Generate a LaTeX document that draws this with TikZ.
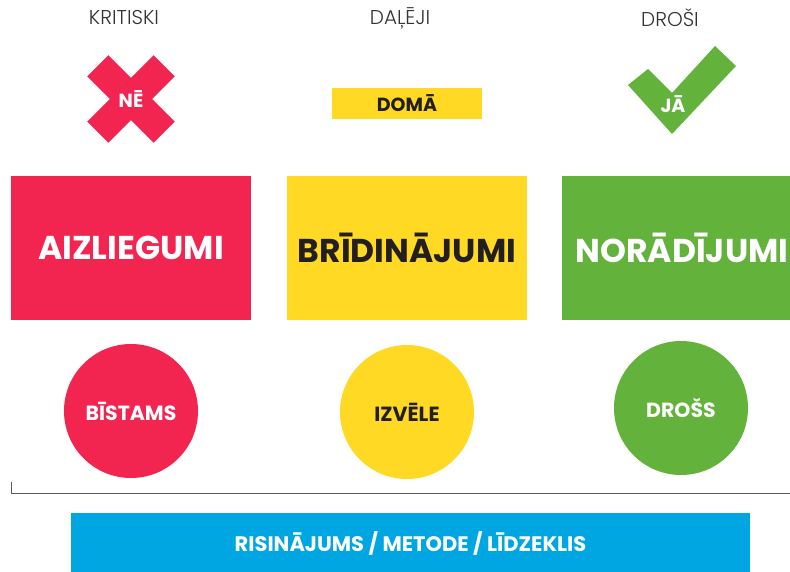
\documentclass[tikz,border=0pt]{standalone}
\usepackage{fontspec}
\setmainfont{Poppins}
\newfontfamily\poppinslight{Poppins Light}
\usetikzlibrary{positioning}
\definecolor{aizRed}{HTML}{F22450}
\definecolor{bridYellow}{HTML}{FFD924}
\definecolor{norGreen}{HTML}{62B23C}
\definecolor{risBlue}{HTML}{00A6E2}
\definecolor{darkText}{HTML}{231F20}
\definecolor{headGray}{HTML}{333333}

\tikzset{
    headlabel/.style={text=headGray, font=\poppinslight\fontsize{20}{22}\selectfont},
    bigbox/.style={minimum width=240pt, minimum height=144pt, inner sep=0pt,
        font=\bfseries\fontsize{33}{36}\selectfont},
    disc/.style={circle, minimum size=134pt, inner sep=0pt,
        font=\bfseries\fontsize{20.5}{22}\selectfont},
    xbar/.style={fill=aizRed, minimum width=94pt, minimum height=30pt, inner sep=0pt},
    smalltag/.style={font=\bfseries\fontsize{19}{21}\selectfont}
}

\begin{document}
\begin{tikzpicture}[x=1pt, y=-1pt]
    \useasboundingbox (0,0) rectangle (790,572);

    % column headings
    \node[headlabel] (hKrit) at (124,18) {KRITISKI};
    \node[headlabel] (hDal) at (400,18) {DAĻĒJI};
    \node[headlabel] (hDros) at (670,18) {DROŠI};

    % red cross
    \node[xbar, rotate=45] (xA) at (131,99) {};
    \node[xbar, rotate=-45] (xB) at (131,99) {};
    \node[smalltag, text=white] (ne) at (131,99) {NĒ};

    % yellow tag
    \node[fill=bridYellow, minimum width=150pt, minimum height=31pt, inner sep=0pt,
        smalltag, text=darkText] (doma) at (407,103.5) {DOMĀ};

    % green tick
    \fill[norGreen] (628,85) -- (648,69) -- (672,93) -- (715,46) -- (736,66) -- (672,134) -- cycle;
    \node[smalltag, text=white] (ja) at (673,104) {JĀ};

    % main boxes
    \node[bigbox, fill=aizRed, text=white] (aiz) at (131,248) {AIZLIEGUMI};
    \node[bigbox, fill=bridYellow, text=darkText] (brid) at (407,248) {BRĪDINĀJUMI};
    \node[bigbox, fill=norGreen, text=white] (nor) at (682,248) {NORĀDĪJUMI};

    % discs
    \node[disc, fill=aizRed, text=white] (bist) at (131,411) {BĪSTAMS};
    \node[disc, fill=bridYellow, text=darkText] (izv) at (407,412) {IZVĒLE};
    \node[disc, fill=norGreen, text=white] (dross) at (681,408) {DROŠS};

    % baseline
    \coordinate (tickTop) at (11,482);
    \coordinate (lineEnd) at (790,493.5);
    \draw[headGray!80, line width=1pt] (tickTop) |- (lineEnd);

    % bottom bar
    \node[fill=risBlue, minimum width=679pt, minimum height=60pt, inner sep=0pt,
        text=white, font=\fontsize{21}{23}\selectfont\bfseries] (ris) at (410.5,543) {RISINĀJUMS / METODE / LĪDZEKLIS};
\end{tikzpicture}
\end{document}
